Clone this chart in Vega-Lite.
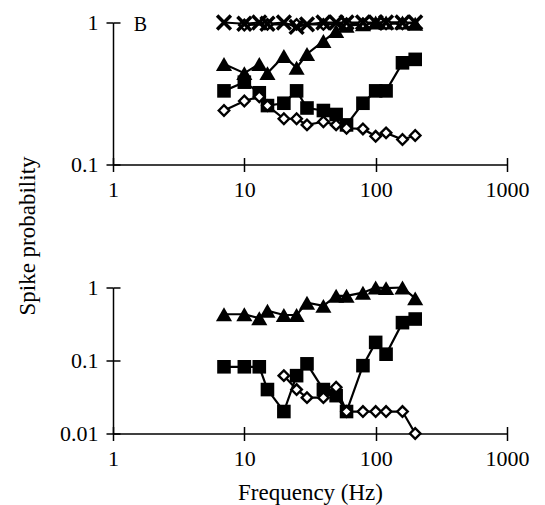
{
  "$schema": "https://vega.github.io/schema/vega-lite/v6.json",
  "autosize": {"type": "pad"},
  "padding": {"left": 16, "top": 8.5, "right": 5, "bottom": 5},
  "background": "white",
  "bounds": "flush",
  "spacing": 123,
  "config": {
    "font": "Liberation Serif",
    "view": {"stroke": null},
    "axis": {
      "labelFont": "Liberation Serif", "labelFontSize": 22, "labelColor": "black",
      "titleFont": "Liberation Serif", "titleFontSize": 23, "titleColor": "black", "titleFontWeight": "normal",
      "domainColor": "black", "domainWidth": 1.5, "tickColor": "black", "tickWidth": 1.5,
      "grid": false, "labelFlush": false, "labelOverlap": false
    }
  },
  "datasets": {
    "pts": [
      {"g": "top", "s": "X", "f": 7, "p": 1.0},
      {"g": "top", "s": "X", "f": 10, "p": 0.98},
      {"g": "top", "s": "X", "f": 13, "p": 1.0},
      {"g": "top", "s": "X", "f": 15, "p": 0.98},
      {"g": "top", "s": "X", "f": 20, "p": 1.0},
      {"g": "top", "s": "X", "f": 25, "p": 0.93},
      {"g": "top", "s": "X", "f": 30, "p": 0.97},
      {"g": "top", "s": "X", "f": 40, "p": 1.0},
      {"g": "top", "s": "X", "f": 50, "p": 1.0},
      {"g": "top", "s": "X", "f": 60, "p": 1.0},
      {"g": "top", "s": "X", "f": 80, "p": 1.0},
      {"g": "top", "s": "X", "f": 100, "p": 1.0},
      {"g": "top", "s": "X", "f": 120, "p": 1.0},
      {"g": "top", "s": "X", "f": 160, "p": 1.0},
      {"g": "top", "s": "X", "f": 200, "p": 1.0},
      {"g": "top", "s": "D1", "f": 10, "p": 0.96},
      {"g": "top", "s": "D1", "f": 15, "p": 0.97},
      {"g": "top", "s": "D1", "f": 25, "p": 0.97},
      {"g": "top", "s": "D1", "f": 40, "p": 0.97},
      {"g": "top", "s": "D1", "f": 60, "p": 0.98},
      {"g": "top", "s": "D1", "f": 80, "p": 0.98},
      {"g": "top", "s": "D1", "f": 120, "p": 0.98},
      {"g": "top", "s": "D1", "f": 160, "p": 0.98},
      {"g": "top", "s": "T", "f": 7, "p": 0.51},
      {"g": "top", "s": "T", "f": 10, "p": 0.44},
      {"g": "top", "s": "T", "f": 13, "p": 0.51},
      {"g": "top", "s": "T", "f": 15, "p": 0.44},
      {"g": "top", "s": "T", "f": 20, "p": 0.58},
      {"g": "top", "s": "T", "f": 25, "p": 0.48},
      {"g": "top", "s": "T", "f": 30, "p": 0.6},
      {"g": "top", "s": "T", "f": 40, "p": 0.74},
      {"g": "top", "s": "T", "f": 50, "p": 0.87},
      {"g": "top", "s": "T", "f": 60, "p": 0.95},
      {"g": "top", "s": "T", "f": 80, "p": 0.97},
      {"g": "top", "s": "T", "f": 100, "p": 1.0},
      {"g": "top", "s": "T", "f": 120, "p": 1.0},
      {"g": "top", "s": "T", "f": 160, "p": 1.0},
      {"g": "top", "s": "T", "f": 200, "p": 0.98},
      {"g": "top", "s": "S", "f": 7, "p": 0.33},
      {"g": "top", "s": "S", "f": 10, "p": 0.38},
      {"g": "top", "s": "S", "f": 13, "p": 0.32},
      {"g": "top", "s": "S", "f": 15, "p": 0.26},
      {"g": "top", "s": "S", "f": 20, "p": 0.27},
      {"g": "top", "s": "S", "f": 25, "p": 0.33},
      {"g": "top", "s": "S", "f": 30, "p": 0.25},
      {"g": "top", "s": "S", "f": 40, "p": 0.24},
      {"g": "top", "s": "S", "f": 50, "p": 0.225},
      {"g": "top", "s": "S", "f": 60, "p": 0.19},
      {"g": "top", "s": "S", "f": 80, "p": 0.27},
      {"g": "top", "s": "S", "f": 100, "p": 0.33},
      {"g": "top", "s": "S", "f": 120, "p": 0.33},
      {"g": "top", "s": "S", "f": 160, "p": 0.52},
      {"g": "top", "s": "S", "f": 200, "p": 0.55},
      {"g": "top", "s": "D", "f": 7, "p": 0.24},
      {"g": "top", "s": "D", "f": 10, "p": 0.28},
      {"g": "top", "s": "D", "f": 13, "p": 0.3},
      {"g": "top", "s": "D", "f": 15, "p": 0.26},
      {"g": "top", "s": "D", "f": 20, "p": 0.21},
      {"g": "top", "s": "D", "f": 25, "p": 0.21},
      {"g": "top", "s": "D", "f": 30, "p": 0.19},
      {"g": "top", "s": "D", "f": 40, "p": 0.2},
      {"g": "top", "s": "D", "f": 50, "p": 0.19},
      {"g": "top", "s": "D", "f": 60, "p": 0.18},
      {"g": "top", "s": "D", "f": 80, "p": 0.178},
      {"g": "top", "s": "D", "f": 100, "p": 0.158},
      {"g": "top", "s": "D", "f": 120, "p": 0.167},
      {"g": "top", "s": "D", "f": 160, "p": 0.15},
      {"g": "top", "s": "D", "f": 200, "p": 0.16},
      {"g": "bot", "s": "T", "f": 7, "p": 0.43},
      {"g": "bot", "s": "T", "f": 10, "p": 0.43},
      {"g": "bot", "s": "T", "f": 13, "p": 0.38},
      {"g": "bot", "s": "T", "f": 15, "p": 0.48},
      {"g": "bot", "s": "T", "f": 20, "p": 0.42},
      {"g": "bot", "s": "T", "f": 25, "p": 0.42},
      {"g": "bot", "s": "T", "f": 30, "p": 0.62},
      {"g": "bot", "s": "T", "f": 40, "p": 0.56},
      {"g": "bot", "s": "T", "f": 50, "p": 0.77},
      {"g": "bot", "s": "T", "f": 60, "p": 0.77},
      {"g": "bot", "s": "T", "f": 80, "p": 0.85},
      {"g": "bot", "s": "T", "f": 100, "p": 1.0},
      {"g": "bot", "s": "T", "f": 120, "p": 0.98},
      {"g": "bot", "s": "T", "f": 160, "p": 1.0},
      {"g": "bot", "s": "T", "f": 200, "p": 0.71},
      {"g": "bot", "s": "S", "f": 7, "p": 0.082},
      {"g": "bot", "s": "S", "f": 10, "p": 0.082},
      {"g": "bot", "s": "S", "f": 13, "p": 0.082},
      {"g": "bot", "s": "S", "f": 15, "p": 0.04},
      {"g": "bot", "s": "S", "f": 20, "p": 0.02},
      {"g": "bot", "s": "S", "f": 25, "p": 0.062},
      {"g": "bot", "s": "S", "f": 30, "p": 0.09},
      {"g": "bot", "s": "S", "f": 40, "p": 0.04},
      {"g": "bot", "s": "S", "f": 50, "p": 0.033},
      {"g": "bot", "s": "S", "f": 60, "p": 0.02},
      {"g": "bot", "s": "S", "f": 80, "p": 0.085},
      {"g": "bot", "s": "S", "f": 100, "p": 0.177},
      {"g": "bot", "s": "S", "f": 120, "p": 0.122},
      {"g": "bot", "s": "S", "f": 160, "p": 0.33},
      {"g": "bot", "s": "S", "f": 200, "p": 0.37},
      {"g": "bot", "s": "D", "f": 20, "p": 0.062},
      {"g": "bot", "s": "D", "f": 25, "p": 0.04},
      {"g": "bot", "s": "D", "f": 30, "p": 0.031},
      {"g": "bot", "s": "D", "f": 40, "p": 0.031},
      {"g": "bot", "s": "D", "f": 50, "p": 0.043},
      {"g": "bot", "s": "D", "f": 60, "p": 0.02},
      {"g": "bot", "s": "D", "f": 80, "p": 0.02},
      {"g": "bot", "s": "D", "f": 100, "p": 0.02},
      {"g": "bot", "s": "D", "f": 120, "p": 0.02},
      {"g": "bot", "s": "D", "f": 160, "p": 0.02},
      {"g": "bot", "s": "D", "f": 200, "p": 0.01}
    ],
    "lab": [
      {"f": 1.44, "p": 0.874, "t": "B"}
    ]
  },
  "data": {"name": "pts"},
  "vconcat": [
    {
      "width": 394,
      "height": 142,
      "encoding": {
        "x": {"field": "f", "type": "quantitative", "scale": {"type": "log", "domain": [1, 1000], "nice": false}},
        "y": {"field": "p", "type": "quantitative", "scale": {"type": "log", "domain": [0.1, 1], "nice": false}}
      },
      "layer": [
        {
          "transform": [{"filter": "datum.g === 'top'"}],
          "mark": {"type": "line", "color": "black", "strokeWidth": 2.2},
          "encoding": {
            "detail": {"field": "s"},
            "x": {"field": "f", "type": "quantitative", "axis": {"orient": "bottom", "values": [1, 10, 100, 1000], "format": "~g", "title": null, "tickSize": 7, "labelPadding": 8}},
            "y": {"field": "p", "type": "quantitative", "axis": {"orient": "left", "values": [0.1, 1], "format": "~g", "tickSize": 7, "labelPadding": 8, "title": "Spike probability", "titleX": -79, "titleY": 213, "titleAlign": "center", "titleBaseline": "alphabetic", "titleAngle": -90}}
          }
        },
        {
          "transform": [{"filter": "datum.g === 'top' && datum.s === 'S'"}],
          "mark": {"type": "point", "shape": "square", "filled": true, "color": "black", "opacity": 1, "size": 185},
          "encoding": {
            "x": {"field": "f", "type": "quantitative", "axis": {"orient": "bottom", "values": [1, 10, 100, 1000], "labels": false, "domain": false, "title": null, "tickSize": 7, "offset": -7}},
            "y": {"field": "p", "type": "quantitative", "axis": {"orient": "left", "values": [0.1, 1], "labels": false, "domain": false, "title": null, "tickSize": 7, "offset": -7}}
          }
        },
        {
          "transform": [{"filter": "datum.g === 'top' && datum.s === 'T'"}],
          "mark": {"type": "point", "shape": "triangle-up", "filled": true, "color": "black", "opacity": 1, "size": 260},
          "encoding": {"x": {"field": "f", "type": "quantitative", "axis": null}, "y": {"field": "p", "type": "quantitative", "axis": null}}
        },
        {
          "transform": [{"filter": "datum.g === 'top' && (datum.s === 'D' || datum.s === 'D1')"}],
          "mark": {"type": "point", "shape": "diamond", "filled": true, "fill": "white", "stroke": "black", "strokeWidth": 2.4, "opacity": 1, "size": 110},
          "encoding": {"x": {"field": "f", "type": "quantitative", "axis": null}, "y": {"field": "p", "type": "quantitative", "axis": null}}
        },
        {
          "transform": [{"filter": "datum.g === 'top' && datum.s === 'X'"}],
          "mark": {"type": "point", "shape": "M-1,-1L1,1M-1,1L1,-1", "filled": false, "stroke": "black", "strokeWidth": 3.5, "opacity": 1, "size": 190},
          "encoding": {"x": {"field": "f", "type": "quantitative", "axis": null}, "y": {"field": "p", "type": "quantitative", "axis": null}}
        },
        {
          "data": {"name": "lab"},
          "mark": {"type": "text", "align": "left", "baseline": "alphabetic", "font": "Liberation Serif", "fontSize": 20, "color": "black"},
          "encoding": {"x": {"field": "f", "type": "quantitative", "axis": null}, "y": {"field": "p", "type": "quantitative", "axis": null}, "text": {"field": "t"}}
        }
      ],
      "resolve": {"axis": {"x": "independent", "y": "independent"}}
    },
    {
      "width": 394,
      "height": 146,
      "encoding": {
        "x": {"field": "f", "type": "quantitative", "scale": {"type": "log", "domain": [1, 1000], "nice": false}},
        "y": {"field": "p", "type": "quantitative", "scale": {"type": "log", "domain": [0.01, 1], "nice": false}}
      },
      "layer": [
        {
          "transform": [{"filter": "datum.g === 'bot'"}],
          "mark": {"type": "line", "color": "black", "strokeWidth": 2.2},
          "encoding": {
            "detail": {"field": "s"},
            "x": {"field": "f", "type": "quantitative", "axis": {"orient": "bottom", "values": [1, 10, 100, 1000], "format": "~g", "tickSize": 7, "labelPadding": 8, "title": "Frequency (Hz)", "titleY": 66, "titleBaseline": "alphabetic"}},
            "y": {"field": "p", "type": "quantitative", "axis": {"orient": "left", "values": [0.01, 0.1, 1], "format": "~g", "tickSize": 7, "labelPadding": 8, "title": null}}
          }
        },
        {
          "transform": [{"filter": "datum.g === 'bot' && datum.s === 'S'"}],
          "mark": {"type": "point", "shape": "square", "filled": true, "color": "black", "opacity": 1, "size": 185},
          "encoding": {
            "x": {"field": "f", "type": "quantitative", "axis": {"orient": "bottom", "values": [1, 10, 100, 1000], "labels": false, "domain": false, "title": null, "tickSize": 7, "offset": -7}},
            "y": {"field": "p", "type": "quantitative", "axis": {"orient": "left", "values": [0.01, 0.1, 1], "labels": false, "domain": false, "title": null, "tickSize": 7, "offset": -7}}
          }
        },
        {
          "transform": [{"filter": "datum.g === 'bot' && datum.s === 'T'"}],
          "mark": {"type": "point", "shape": "triangle-up", "filled": true, "color": "black", "opacity": 1, "size": 260},
          "encoding": {"x": {"field": "f", "type": "quantitative", "axis": null}, "y": {"field": "p", "type": "quantitative", "axis": null}}
        },
        {
          "transform": [{"filter": "datum.g === 'bot' && datum.s === 'D'"}],
          "mark": {"type": "point", "shape": "diamond", "filled": true, "fill": "white", "stroke": "black", "strokeWidth": 2.4, "opacity": 1, "size": 110},
          "encoding": {"x": {"field": "f", "type": "quantitative", "axis": null}, "y": {"field": "p", "type": "quantitative", "axis": null}}
        }
      ],
      "resolve": {"axis": {"x": "independent", "y": "independent"}}
    }
  ]
}
